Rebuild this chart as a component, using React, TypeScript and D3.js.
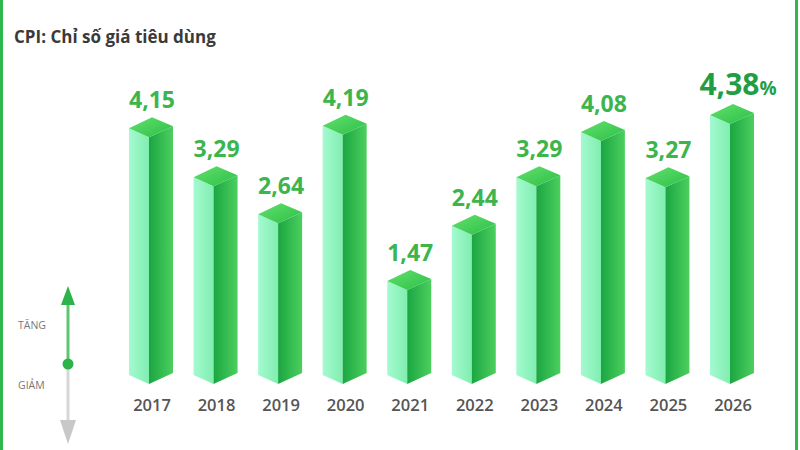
import * as d3 from 'd3'

const years = ['2017', '2018', '2019', '2020', '2021', '2022', '2023', '2024', '2025', '2026']
const cpi = [4.15, 3.29, 2.64, 4.19, 1.47, 2.44, 3.29, 4.08, 3.27, 4.38]
const labels = ['4,15', '3,29', '2,64', '4,19', '1,47', '2,44', '3,29', '4,08', '3,27', '4,38']

const W = 800
const H = 450
const BASE = 384
const LW = 20 // left face width
const RW = 24 // right face width

export default function App() {
  const x = d3.scalePoint<string>().domain(years).range([149, 730])
  const y = d3.scaleLinear().domain([0, 4.38]).range([BASE - 10, 124])
  const last = years.length - 1

  const poly = (pts: [number, number][]) => d3.line()(pts) + 'Z'

  return (
    <svg width={W} height={H} style={{ display: 'block', position: 'absolute', left: 0, top: 0, background: '#fff' }}>
      <defs>
        <linearGradient id="leftFace" x1="0" x2="1" y1="0" y2="0">
          <stop offset="0" stopColor="#a4fad0" />
          <stop offset="1" stopColor="#80eeb0" />
        </linearGradient>
        <linearGradient id="rightFace" x1="0" x2="1" y1="0" y2="0">
          <stop offset="0" stopColor="#1ba642" />
          <stop offset="1" stopColor="#4ccf5e" />
        </linearGradient>
        <linearGradient id="topFace" x1="0" x2="1" y1="0" y2="1">
          <stop offset="0" stopColor="#62e06c" />
          <stop offset="1" stopColor="#2cbf48" />
        </linearGradient>
      </defs>

      <rect x={0} y={0} width={3} height={H} fill="#2fb84d" />
      <rect x={795} y={0} width={3} height={H} fill="#2fb84d" />

      <text x={14} y={43} fontFamily="'Open Sans', sans-serif" fontWeight={700} fontSize={17} fill="#3a3a3a">
        CPI: Chỉ số giá tiêu dùng
      </text>

      {years.map((yr, i) => {
        const cx = x(yr)!
        const yt = y(cpi[i])
        const left: [number, number][] = [
          [cx - LW, yt - 9], [cx, yt], [cx, BASE], [cx - LW, BASE - 9],
        ]
        const right: [number, number][] = [
          [cx, yt], [cx + RW, yt - 11], [cx + RW, BASE - 11], [cx, BASE],
        ]
        const top: [number, number][] = [
          [cx - LW, yt - 9], [cx + 3, yt - 20], [cx + RW, yt - 11], [cx, yt],
        ]
        return (
          <g key={yr}>
            <path d={poly(left)} fill="url(#leftFace)" />
            <path d={poly(right)} fill="url(#rightFace)" />
            <path d={poly(top)} fill="url(#topFace)" />
            {i === last ? (
              <text x={cx + 8} y={yt - 29} textAnchor="middle" fontFamily="'Open Sans', sans-serif" fontWeight={700} fill="#1f9e45">
                <tspan fontSize={30}>{labels[i]}</tspan>
                <tspan fontSize={19}>%</tspan>
              </text>
            ) : (
              <text x={cx + 3} y={yt - 29} textAnchor="middle" fontFamily="'Open Sans', sans-serif" fontWeight={700} fontSize={23} fill="#3cb54d">
                {labels[i]}
              </text>
            )}
            <text x={cx + 3} y={411} textAnchor="middle" fontFamily="'Open Sans', sans-serif" fontWeight={600} fontSize={16.5} fill="#555">
              {yr}
            </text>
          </g>
        )
      })}

      {/* tăng / giảm legend */}
      <line x1={68} x2={68} y1={300} y2={364} stroke="#5cc770" strokeWidth={3} />
      <path d="M61,305 L68,286 L75,305 Z" fill="#2eb24c" />
      <line x1={68} x2={68} y1={364} y2={425} stroke="#d6d6d6" strokeWidth={3} />
      <path d="M60,420 L68,444 L76,420 Z" fill="#c8c8c8" />
      <circle cx={68} cy={364} r={5.5} fill="#2eb24c" />
      <text x={18} y={329} fontFamily="'Open Sans', sans-serif" fontSize={10.5} fill="#777">TĂNG</text>
      <text x={18} y={389} fontFamily="'Open Sans', sans-serif" fontSize={10.5} fill="#777">GIẢM</text>
    </svg>
  )
}
